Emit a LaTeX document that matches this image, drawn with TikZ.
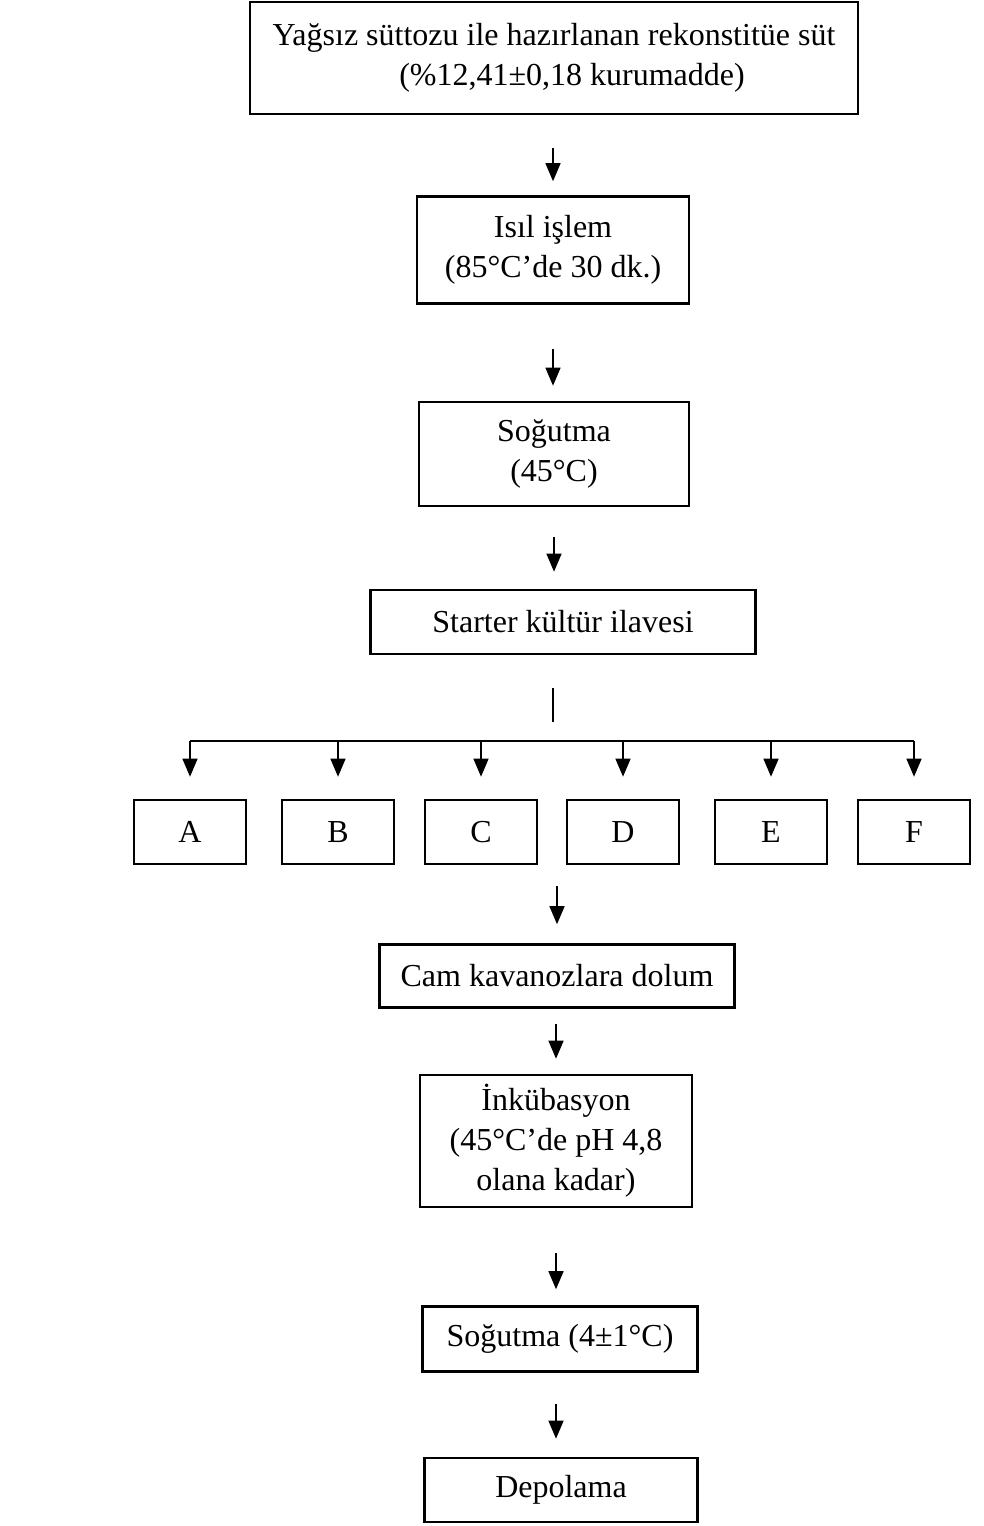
\documentclass[tikz,border=0pt]{standalone}
\usepackage{fontspec}
\setmainfont{Liberation Serif}
\usepackage{tikz}
\usetikzlibrary{arrows.meta, calc}

\tikzset{
    box/.style={draw, line width=2.6pt, inner sep=0pt, align=center, font=\fontsize{32}{40}\selectfont},
    arr/.style={line width=1.4pt, -{Triangle[width=15pt,length=18pt]}},
}

\begin{document}
\begin{tikzpicture}[x=1pt, y=-1pt]
        \useasboundingbox (0,0) rectangle (984,1526);

        \node[box, minimum width=608pt, minimum height=112pt] (sut) at (554,58) {Yağsız süttozu ile hazırlanan rekonstitüe süt\\ \hspace*{36pt}(\%12,41±0,18 kurumadde)};
        \node[box, minimum width=272pt, minimum height=107pt] (isil) at (553,250) {Isıl işlem\\(85°C’de 30 dk.)};
        \node[box, minimum width=270pt, minimum height=104pt] (sogut) at (554,454) {Soğutma\\(45°C)};
        \node[box, minimum width=385pt, minimum height=64pt] (starter) at (563,622) {Starter kültür ilavesi};
        \coordinate (split) at (553,741);
        \foreach \n/\x in {A/190, B/338, C/481, D/623, E/771, F/914}
            \node[box, minimum width=112pt, minimum height=64pt] (\n) at (\x,832) {\n};
        \node[box, minimum width=355pt, minimum height=63pt] (cam) at (557,976) {Cam kavanozlara dolum};
        \node[box, minimum width=272pt, minimum height=132pt] (inku) at (556,1141) {İnkübasyon\\(45°C’de pH 4,8\\olana kadar)};
        \node[box, minimum width=275pt, minimum height=65pt] (sogut2) at (560,1339) {Soğutma (4±1°C)};
        \node[box, minimum width=273pt, minimum height=64pt] (depo) at (561,1490) {Depolama};

        % akis oklari
        \draw[arr, shorten <=33pt, shorten >=14pt] (sut.south -| isil.north) -- (isil.north);
        \draw[arr, shorten <=44pt, shorten >=15pt] (isil.south) -- (isil.south |- sogut.north);
        \draw[arr, shorten <=30pt, shorten >=17pt] (sogut.south) -- (sogut.south |- starter.north);
        \draw[line width=1.4pt, shorten <=33pt, shorten >=19pt] (starter.south -| split) -- (split);
        \draw[line width=1.4pt] (A.north |- split) -- (F.north |- split);
        \foreach \n in {A, B, C, D, E, F}
            \draw[arr, shorten >=22pt] (\n.north |- split) -- (\n.north);
        \draw[arr, shorten <=21pt, shorten >=19pt] (cam.north |- D.south) -- (cam.north);
        \draw[arr, shorten <=15pt, shorten >=15pt] (cam.south -| inku.north) -- (inku.north);
        \draw[arr, shorten <=45pt, shorten >=16pt] (inku.south) -- (inku.south |- sogut2.north);
        \draw[arr, shorten <=31pt, shorten >=18pt] (sogut2.south -| inku.south) -- (depo.north -| inku.south);
\end{tikzpicture}
\end{document}
